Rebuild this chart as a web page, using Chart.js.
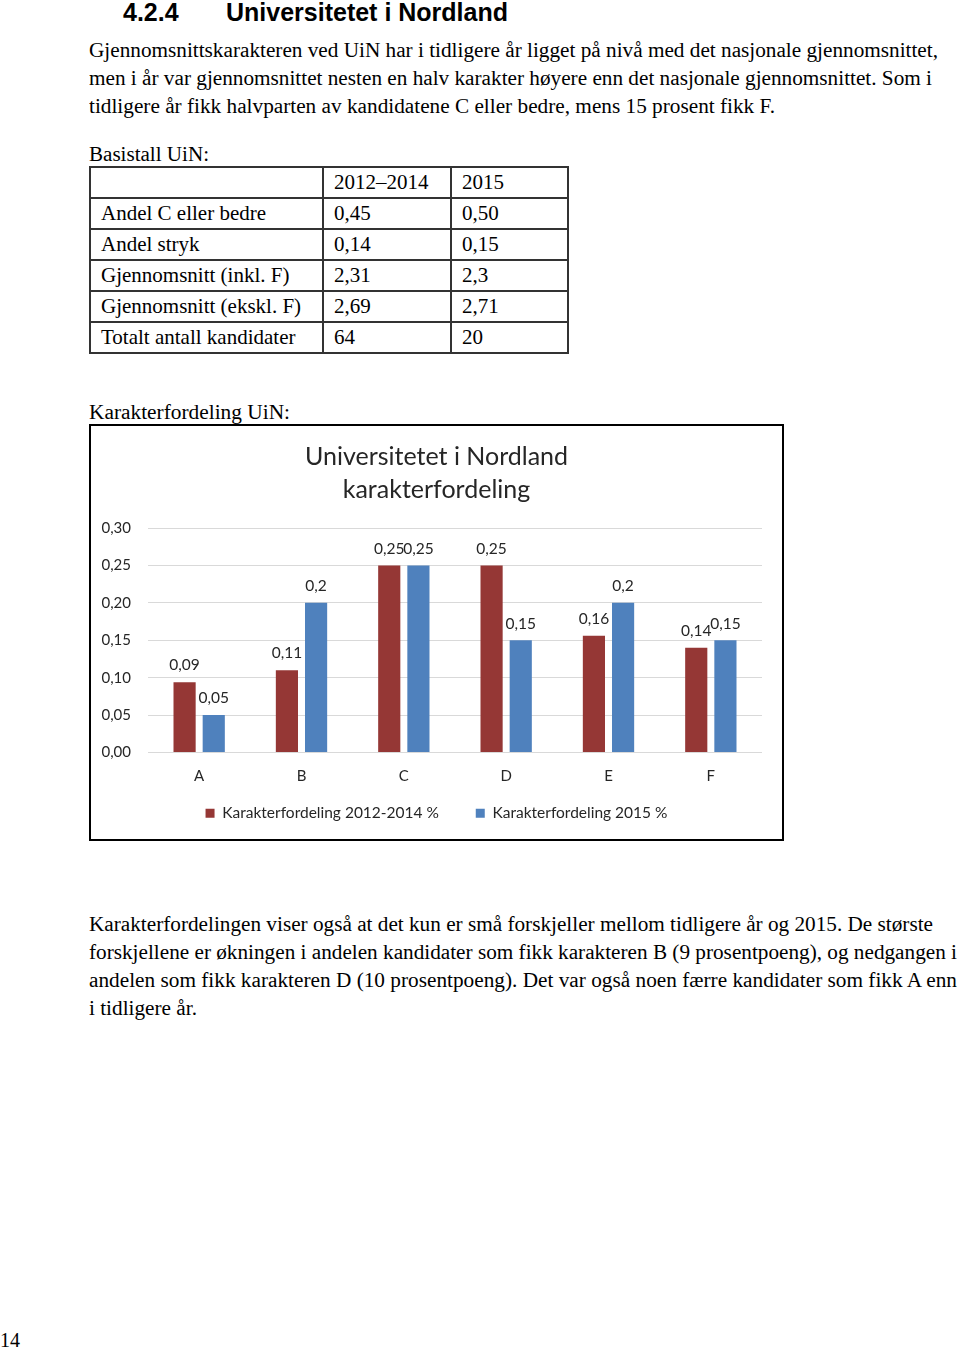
<!DOCTYPE html>
<html>
<head>
<meta charset="utf-8">
<script src="https://cdn.jsdelivr.net/npm/chart.js@4.4.1/dist/chart.umd.min.js"></script>
<style>
  body { margin: 0; width: 960px; height: 1349px; background: #fff; position: relative; font-family: "Liberation Serif", "Times New Roman", serif; color: #000; }
  .abs { position: absolute; white-space: nowrap; }
  .line { font-size: 20px; line-height: 28px; transform-origin: 0 50%; display: inline-block; }
  h2 { position: absolute; margin: 0; top: -2px; font-family: "Liberation Sans", Arial, sans-serif; font-weight: bold; font-size: 25px; line-height: 28px; }
  table { position: absolute; left: 89px; top: 166px; border-collapse: collapse; font-size: 21px; }
  td { border: 2px solid #333; height: 29px; padding: 0 10px; line-height: 27px; vertical-align: middle; }
  #box { position: absolute; left: 89px; top: 424px; width: 691px; height: 413px; border: 2px solid #000; }
  #box canvas { display: block; }
</style>
</head>
<body>

<h2 style="left:123px">4.2.4</h2>
<h2 style="left:226px">Universitetet i Nordland</h2>

<div class="abs" style="left:89px;top:36px"><span class="line" data-w="849">Gjennomsnittskarakteren ved UiN har i tidligere år ligget på nivå med det nasjonale gjennomsnittet,</span></div>
<div class="abs" style="left:89px;top:64px"><span class="line" data-w="843">men i år var gjennomsnittet nesten en halv karakter høyere enn det nasjonale gjennomsnittet. Som i</span></div>
<div class="abs" style="left:89px;top:92px"><span class="line" data-w="686">tidligere år fikk halvparten av kandidatene C eller bedre, mens 15 prosent fikk F.</span></div>

<div class="abs" style="left:89px;top:140px"><span class="line" data-w="120">Basistall UiN:</span></div>

<table>
  <tr><td style="width:211px"></td><td style="width:106px">2012–2014</td><td style="width:95px">2015</td></tr>
  <tr><td>Andel C eller bedre</td><td>0,45</td><td>0,50</td></tr>
  <tr><td>Andel stryk</td><td>0,14</td><td>0,15</td></tr>
  <tr><td>Gjennomsnitt (inkl. F)</td><td>2,31</td><td>2,3</td></tr>
  <tr><td>Gjennomsnitt (ekskl. F)</td><td>2,69</td><td>2,71</td></tr>
  <tr><td>Totalt antall kandidater</td><td>64</td><td>20</td></tr>
</table>

<div class="abs" style="left:89px;top:398px"><span class="line" data-w="201">Karakterfordeling UiN:</span></div>

<div id="box"><canvas id="myChart" width="691" height="413"></canvas></div>

<div class="abs" style="left:89px;top:910px"><span class="line" data-w="844">Karakterfordelingen viser også at det kun er små forskjeller mellom tidligere år og 2015. De største</span></div>
<div class="abs" style="left:89px;top:938px"><span class="line" data-w="868">forskjellene er økningen i andelen kandidater som fikk karakteren B (9 prosentpoeng), og nedgangen i</span></div>
<div class="abs" style="left:89px;top:966px"><span class="line" data-w="868">andelen som fikk karakteren D (10 prosentpoeng). Det var også noen færre kandidater som fikk A enn</span></div>
<div class="abs" style="left:89px;top:994px"><span class="line" data-w="108">i tidligere år.</span></div>

<div class="abs" style="left:0px;top:1326px"><span class="line">14</span></div>

<script>
const categories = ['A', 'B', 'C', 'D', 'E', 'F'];
const values2012 = [0.094, 0.11, 0.25, 0.25, 0.156, 0.14];
const values2015 = [0.05, 0.2, 0.25, 0.15, 0.2, 0.15];
const labels2012 = ['0,09', '0,11', '0,25', '0,25', '0,16', '0,14'];
const labels2015 = ['0,05', '0,2', '0,25', '0,15', '0,2', '0,15'];
const yTicks = [0, 0.05, 0.10, 0.15, 0.20, 0.25, 0.30];

// squeeze the text lines to the widths in the original
document.querySelectorAll('.line[data-w]').forEach((el) => {
    const w = el.getBoundingClientRect().width;
    const target = parseFloat(el.dataset.w);
    el.style.transform = `scaleX(${target / w})`;
});

const chartFont = "Lato, 'Open Sans', sans-serif";

const valueLabels = {
    id: 'valueLabels',
    afterDatasetsDraw(chart) {
        const ctx = chart.ctx;
        const sets = [labels2012, labels2015];
        ctx.save();
        ctx.font = `15.5px ${chartFont}`;
        ctx.fillStyle = '#262626';
        ctx.textAlign = 'center';
        ctx.textBaseline = 'bottom';
        chart.data.datasets.forEach((ds, i) => {
            chart.getDatasetMeta(i).data.forEach((bar, j) => {
                ctx.fillText(sets[i][j], bar.x, bar.y - 9);
            });
        });
        ctx.restore();
    }
};

const data = {
    labels: categories,
    datasets: [{
        label: 'Karakterfordeling 2012-2014 %',
        data: values2012,
        backgroundColor: '#953735',
        barPercentage: 0.76,
        categoryPercentage: 0.57,
    }, {
        label: 'Karakterfordeling 2015 %',
        data: values2015,
        backgroundColor: '#4f81bd',
        barPercentage: 0.76,
        categoryPercentage: 0.57,
    }],
};

const config = {
    type: 'bar',
    data: data,
    plugins: [valueLabels],
    options: {
        responsive: false,
        animation: false,
        layout: {
            padding: { left: 8, right: 8, top: 14, bottom: 8 }
        },
        plugins: {
            legend: {
                position: 'bottom',
                labels: {
                    boxWidth: 9,
                    boxHeight: 9,
                    padding: 13,
                    color: '#262626',
                    font: { family: chartFont, size: 15.5 },
                    generateLabels: (chart) => {
                        const items = Chart.defaults.plugins.legend.labels.generateLabels(chart);
                        // wider gap between the two entries
                        items[0].text += '      ';
                        return items;
                    }
                }
            },
            title: {
                display: true,
                text: ['Universitetet i Nordland', 'karakterfordeling'],
                color: '#262626',
                font: { family: chartFont, size: 25, weight: 'normal', lineHeight: 1.32 },
                padding: { top: 0, bottom: 22 }
            },
            tooltip: { enabled: false }
        },
        scales: {
            y: {
                min: 0,
                max: 0.30,
                afterBuildTicks: (axis) => { axis.ticks = yTicks.map((v) => ({ value: v })); },
                afterFit: (axis) => { axis.width = 49; },
                border: { display: false },
                grid: { color: '#d9d9d9', drawTicks: false, lineWidth: 1 },
                ticks: {
                    padding: 17,
                    color: '#262626',
                    font: { family: chartFont, size: 15 },
                    callback: (v) => v.toFixed(2).replace('.', ',')
                }
            },
            yRight: {
                position: 'right',
                border: { display: false },
                grid: { display: false },
                ticks: { display: false },
                afterFit: (axis) => { axis.width = 12; }
            },
            x: {
                border: { display: false },
                grid: { display: false },
                ticks: {
                    padding: 7,
                    color: '#262626',
                    font: { family: chartFont, size: 15 }
                }
            }
        }
    },
};

new Chart(document.getElementById('myChart').getContext('2d'), config);
</script>
</body>
</html>
